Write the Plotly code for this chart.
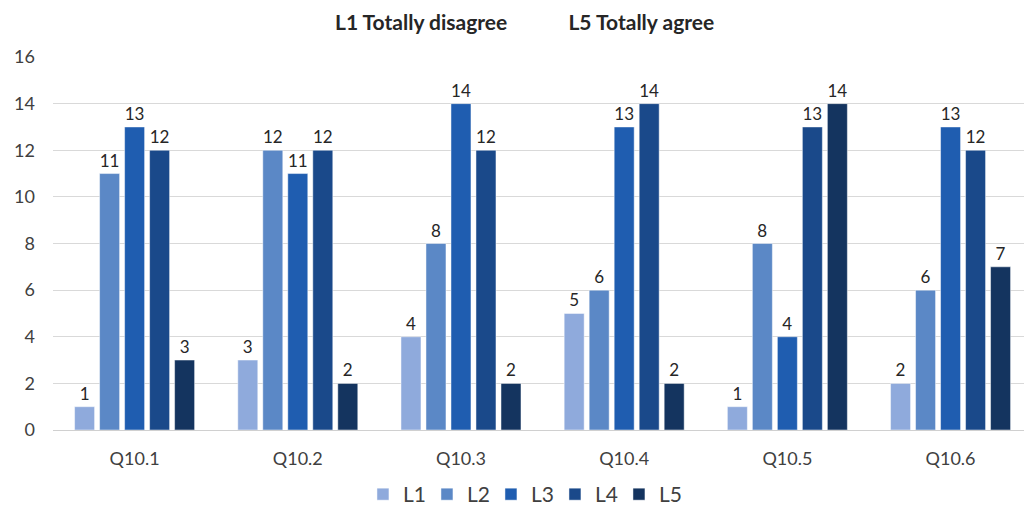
import plotly.graph_objects as go

# Survey responses per question, by agreement level
questions = ["Q10.1", "Q10.2", "Q10.3", "Q10.4", "Q10.5", "Q10.6"]
levels = ["L1", "L2", "L3", "L4", "L5"]
l1 = [1, 3, 4, 5, 1, 2]
l2 = [11, 12, 8, 6, 8, 6]
l3 = [13, 11, 14, 13, 4, 13]
l4 = [12, 12, 12, 14, 13, 12]
l5 = [3, 2, 2, 2, 14, 7]
series = [l1, l2, l3, l4, l5]
colors = ["#8FAADC", "#5B88C6", "#1F5DB0", "#1A498A", "#14345F"]
y_ticks = [0, 2, 4, 6, 8, 10, 12, 14, 16]

FONT = "Lato, 'Open Sans', sans-serif"

fig = go.Figure()
for name, vals, col in zip(levels, series, colors):
    fig.add_trace(go.Bar(
        name=name,
        x=questions,
        y=vals,
        marker=dict(color=col, line=dict(color="rgba(255,255,255,0.6)", width=0.8)),
        text=[str(v) for v in vals],
        textposition="outside",
        textfont=dict(family=FONT, size=17, color="#262626"),
        cliponaxis=False,
    ))

fig.update_layout(
    width=1024,
    height=508,
    margin=dict(l=53, r=0, t=57, b=78, autoexpand=False),
    paper_bgcolor="white",
    plot_bgcolor="white",
    barmode="group",
    bargap=0.234,
    bargroupgap=0.2,
    font=dict(family=FONT, color="#404040"),
    showlegend=True,
    legend=dict(
        orientation="h",
        x=0.484, xanchor="center",
        y=-0.118, yanchor="top",
        font=dict(family=FONT, size=21, color="#404040"),
        itemwidth=30,
        entrywidth=19,
        entrywidthmode="pixels",
        traceorder="normal",
    ),
    xaxis=dict(
        range=[-0.5, 5.45],
        showgrid=False,
        showline=True,
        linecolor="#D0D0D0",
        linewidth=1,
        ticks="",
        tickfont=dict(family=FONT, size=18, color="#404040"),
        ticklabelstandoff=12,
    ),
    yaxis=dict(
        range=[0, 16],
        tickvals=y_ticks,
        showgrid=True,
        gridcolor="#D9D9D9",
        gridwidth=1,
        zeroline=False,
        showline=False,
        ticks="",
        tickfont=dict(family=FONT, size=18, color="#404040"),
        ticklabelstandoff=17,
    ),
    annotations=[
        dict(
            text="L1 Totally disagree            L5 Totally agree",
            xref="paper", yref="paper",
            x=0.486, y=1.0, yshift=36,
            xanchor="center", yanchor="middle",
            showarrow=False,
            font=dict(family=FONT, size=21, color="#262626", weight="bold"),
        )
    ],
)

fig.write_html("out.html")
